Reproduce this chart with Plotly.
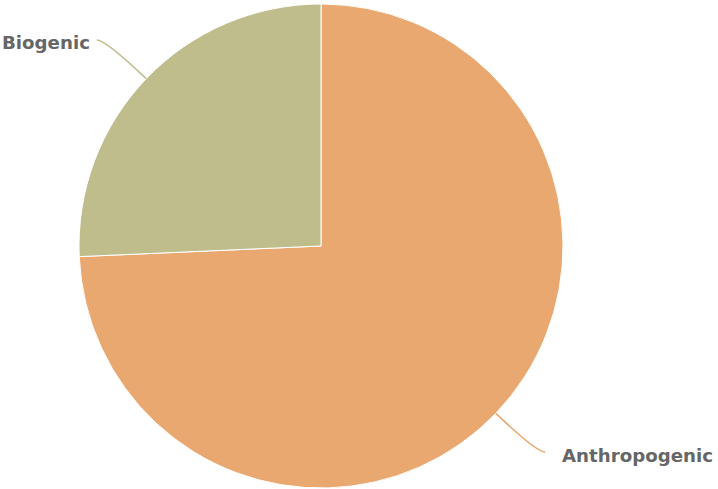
import math
import plotly.graph_objects as go

labels = ["Anthropogenic", "Biogenic"]
values = [74.3, 25.7]
colors = ["#E8A870", "#C0BD8D"]

W, H = 718, 489
cx, cy, r = 321, 246, 242

fig = go.Figure(go.Pie(
    labels=labels, values=values, sort=False, direction="clockwise", rotation=0,
    marker=dict(colors=colors, line=dict(color="#ffffff", width=1)),
    textinfo="none", hoverinfo="label+percent", showlegend=False,
    domain=dict(x=[(cx - r) / W, (cx + r) / W], y=[1 - (cy + r) / H, 1 - (cy - r) / H]),
))

def px(x):
    return x / W

def py(y):
    return 1 - y / H

shapes, annos = [], []
total = sum(values)
start = 90.0
for lab, v, col in zip(labels, values, colors):
    span = v / total * 360
    mid = math.radians(start - span / 2)
    start -= span
    ex, ey = cx + r * math.cos(mid), cy - r * math.sin(mid)
    ly = cy - (r + 56) * math.sin(mid)
    t = (ly - ey) / (-math.sin(mid))
    kx = ex + t * math.cos(mid)
    side = 1 if math.cos(mid) > 0 else -1
    endx = kx + side * 9
    shapes.append(dict(
        type="path", xref="paper", yref="paper",
        path=f"M {px(ex)},{py(ey)} Q {px(kx)},{py(ly)} {px(endx)},{py(ly)}",
        line=dict(color=col, width=1.6),
    ))
    gap = 15 if side > 0 else 5
    annos.append(dict(
        x=px(endx + side * gap), y=py(ly + 3), xref="paper", yref="paper",
        text=f"<b>{lab}</b>", showarrow=False,
        xanchor="left" if side > 0 else "right", yanchor="middle",
        font=dict(family="DejaVu Sans", size=18.2, color="#666666"),
    ))

fig.update_layout(
    width=W, height=H, margin=dict(l=0, r=0, t=0, b=0),
    paper_bgcolor="#ffffff", plot_bgcolor="#ffffff",
    shapes=shapes, annotations=annos,
)
fig.write_html("out.html")
